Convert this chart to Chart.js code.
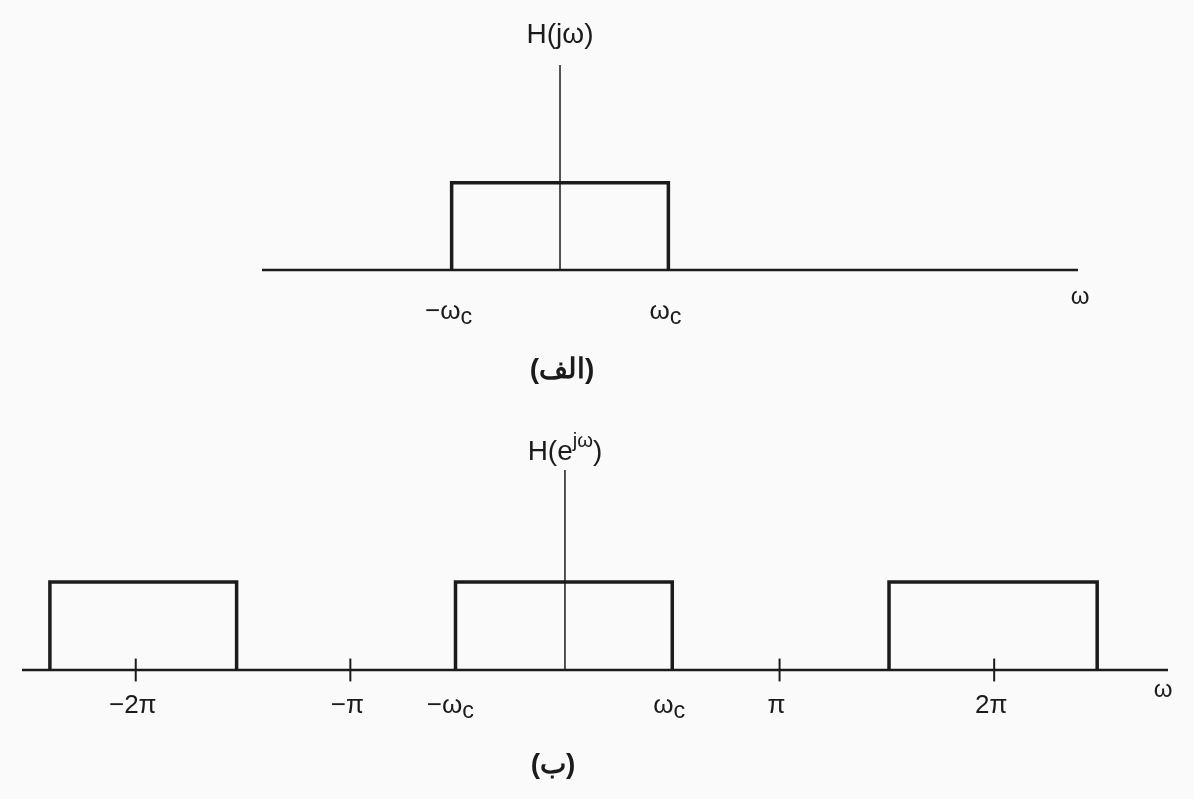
<!DOCTYPE html>
<html>
<head>
<meta charset="utf-8">
<script src="https://cdn.jsdelivr.net/npm/chart.js@4.4.1/dist/chart.umd.min.js"></script>
<style>
  html, body { margin: 0; padding: 0; background: #fafafa; }
  .panel { position: absolute; left: 0; width: 1194px; }
  #topBox { top: 0; height: 400px; }
  #botBox { top: 400px; height: 399px; }
</style>
</head>
<body>
<div id="topBox" class="panel"><canvas id="topChart"></canvas></div>
<div id="botBox" class="panel"><canvas id="botChart"></canvas></div>
<script>
// (a) continuous-time ideal lowpass, x in units of wc
const topAxisRange = [-2.75, 4.78]
const topBandEdges = [-1, 1]
const topGain = 1
const topYMax = 2.35
const topTickValues = [-1, 1]
const topTickLabels = ['−ω_{c}', 'ω_{c}']

// (b) discrete-time ideal lowpass, x in units of pi
const botAxisRange = [-2.53, 2.81]
const botBandStarts = [-2.40, -0.51, 1.51]
const botBandEnds = [-1.53, 0.50, 2.48]
const botGains = [1, 1, 1]
const botYMax = 2.27
const botPiTicks = [-2, -1, 1, 2]
const botTickValues = [-2, -1, -0.52, 0.5, 1, 2]
const botTickLabels = ['−2π', '−π', '−ω_{c}', 'ω_{c}', 'π', '2π']

const INK = '#1b1b1b'
const FONT = '"Liberation Sans", Arial, sans-serif'

// draw text with _{sub} and ^{sup} parts, centred on x
function drawRich(ctx, text, x, y, size, bold){
    let parts = []
    let re = /(\^|_)\{([^}]*)\}|([^_^]+)/g
    let m
    while ((m = re.exec(text)) !== null){
        if (m[3]) parts.push({t: m[3], s: size, dy: 0})
        else if (m[1] === '_') parts.push({t: m[2], s: size * 0.9, dy: size * 0.22})
        else parts.push({t: m[2], s: size * 0.72, dy: -size * 0.36})
    }
    let total = 0
    for (const p of parts){
        ctx.font = (bold ? 'bold ' : '') + p.s + 'px ' + FONT
        p.w = ctx.measureText(p.t).width
        total += p.w
    }
    let cx = x - total / 2
    ctx.textBaseline = 'middle'
    ctx.textAlign = 'left'
    for (const p of parts){
        ctx.font = (bold ? 'bold ' : '') + p.s + 'px ' + FONT
        ctx.fillText(p.t, cx, y + p.dy)
        cx += p.w
    }
}

function line(points, width){
    return {
        data: points,
        showLine: true,
        borderColor: INK,
        borderWidth: width,
        pointRadius: 0,
        tension: 0,
        fill: false,
        clip: false
    }
}

function rect(x0, x1, g){
    return line([{x: x0, y: 0}, {x: x0, y: g}, {x: x1, y: g}, {x: x1, y: 0}], 3.5)
}

function labelPlugin(opts){
    return {
        id: 'figLabels',
        afterDraw(chart){
            let ctx = chart.ctx
            let xs = chart.scales.x
            let y0 = chart.scales.y.getPixelForValue(0)
            let yTop = chart.scales.y.getPixelForValue(opts.yMax)
            ctx.save()
            ctx.fillStyle = INK
            opts.ticks.forEach((v, i) => {
                drawRich(ctx, opts.labels[i], xs.getPixelForValue(v) + opts.labelShift, y0 + opts.labelDy, 26, false)
            })
            drawRich(ctx, 'ω', opts.omegaX, y0 + opts.omegaDy, 24, false)
            drawRich(ctx, opts.title, xs.getPixelForValue(0), yTop - opts.titleDy, 28, false)
            ctx.direction = 'rtl'
            drawRich(ctx, opts.caption, xs.getPixelForValue(0) + opts.captionDx, y0 + opts.captionDy, 28, true)
            ctx.restore()
        }
    }
}

function baseOptions(xRange, yMax, pad){
    return {
        responsive: true,
        maintainAspectRatio: false,
        animation: false,
        layout: { padding: pad },
        plugins: { legend: { display: false }, tooltip: { enabled: false } },
        scales: {
            x: { type: 'linear', display: false, min: xRange[0], max: xRange[1] },
            y: { type: 'linear', display: false, min: 0, max: yMax }
        }
    }
}

// top chart
let topSets = [
    line([{x: topAxisRange[0], y: 0}, {x: topAxisRange[1], y: 0}], 2.5),
    line([{x: 0, y: 0}, {x: 0, y: topYMax}], 1.5),
    rect(topBandEdges[0], topBandEdges[1], topGain)
]
new Chart(document.getElementById('topChart'), {
    type: 'scatter',
    data: { datasets: topSets },
    options: baseOptions(topAxisRange, topYMax, {left: 262, right: 116, top: 65, bottom: 130}),
    plugins: [labelPlugin({
        yMax: topYMax, ticks: topTickValues, labels: topTickLabels,
        labelShift: -3, labelDy: 42,
        omegaX: 1080, omegaDy: 27,
        title: 'H(jω)', titleDy: 30,
        caption: '(الف)', captionDx: 2, captionDy: 100
    })]
})

// bottom chart
let botSets = [
    line([{x: botAxisRange[0], y: 0}, {x: botAxisRange[1], y: 0}], 2.5),
    line([{x: 0, y: 0}, {x: 0, y: botYMax}], 1.5)
]
botBandStarts.forEach((s, i) => botSets.push(rect(s, botBandEnds[i], botGains[i])))
botPiTicks.forEach(v => botSets.push(line([{x: v, y: -0.13}, {x: v, y: 0.13}], 2)))
new Chart(document.getElementById('botChart'), {
    type: 'scatter',
    data: { datasets: botSets },
    options: baseOptions(botAxisRange, botYMax, {left: 22, right: 26, top: 70, bottom: 129}),
    plugins: [labelPlugin({
        yMax: botYMax, ticks: botTickValues, labels: botTickLabels,
        labelShift: -3, labelDy: 36,
        omegaX: 1163, omegaDy: 20,
        title: 'H(e^{jω})', titleDy: 18,
        caption: '(ب)', captionDx: -12, captionDy: 95
    })]
})
</script>
</body>
</html>
